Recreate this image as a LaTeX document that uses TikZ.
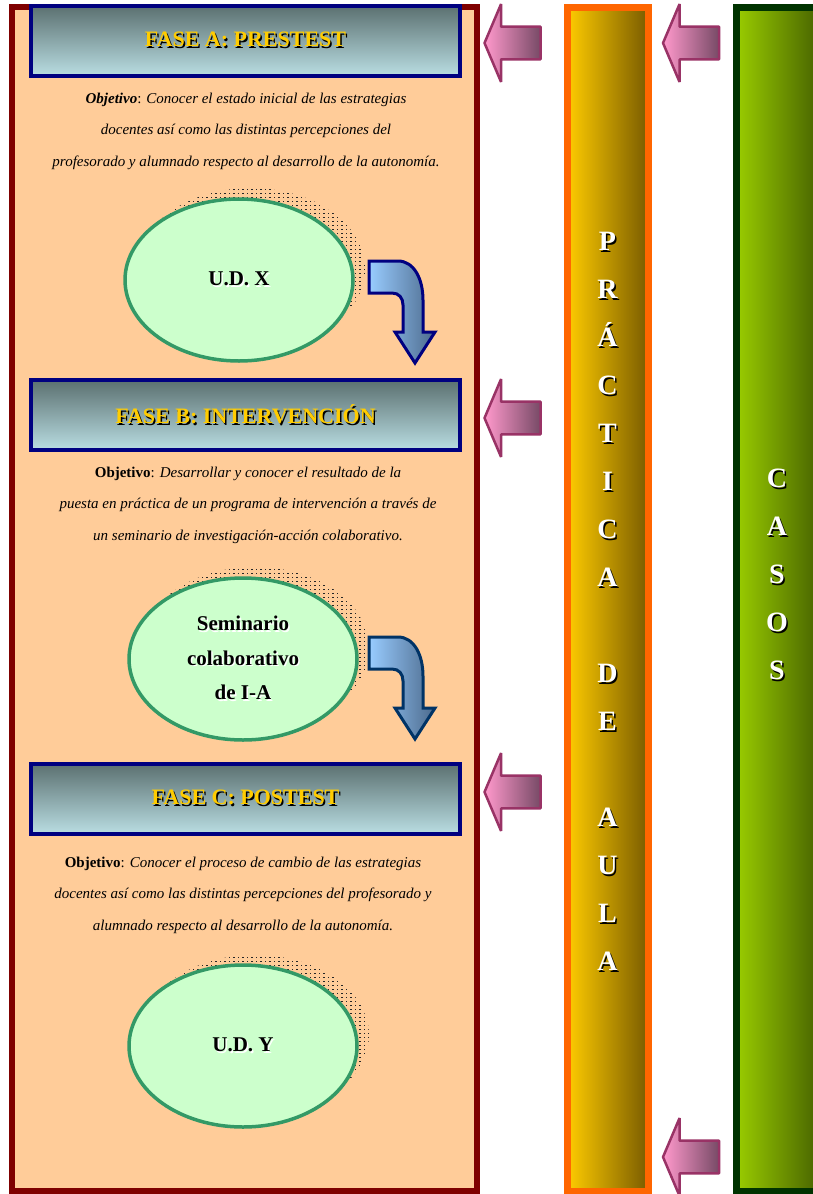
\documentclass[tikz,border=0pt]{standalone}
\usepackage{fontspec}
\setmainfont{Liberation Serif}
\usetikzlibrary{shapes.geometric,shapes.arrows,patterns}

\definecolor{granate}{HTML}{7F0000}
\definecolor{melocoton}{HTML}{FFCC99}
\definecolor{marino}{HTML}{000080}
\definecolor{azuloscuro}{HTML}{003366}
\definecolor{gristop}{HTML}{5B7070}
\definecolor{celestebot}{HTML}{B9DDE2}
\definecolor{oro}{HTML}{FFCC00}
\definecolor{verdeborde}{HTML}{339966}
\definecolor{menta}{HTML}{CCFFCC}
\definecolor{celeste}{HTML}{99CCFF}
\definecolor{pizarra}{HTML}{4C6A8C}
\definecolor{ciruela}{HTML}{993366}
\definecolor{rosaclaro}{HTML}{FF99CC}
\definecolor{malva}{HTML}{774A66}
\definecolor{naranja}{HTML}{FF6600}
\definecolor{ocre}{HTML}{7A5C00}
\definecolor{pino}{HTML}{003300}
\definecolor{lima}{HTML}{99CC00}
\definecolor{oliva}{HTML}{4A6600}

% texto con sombra
\newcommand{\sombra}[2]{\makebox[0pt][l]{\raisebox{-1.5pt}{\hspace{1.5pt}\color{#1}#2}}#2}

% trama de puntos para la sombra de las elipses
\pgfdeclarepatternformonly{puntos}{\pgfqpoint{-1pt}{-1pt}}{\pgfqpoint{1pt}{1pt}}{\pgfqpoint{4.5pt}{4pt}}%
  {\pgfpathrectangle{\pgfqpoint{-0.7pt}{-0.5pt}}{\pgfqpoint{1.4pt}{1pt}}\pgfusepath{fill}}

\begin{document}
\begin{tikzpicture}[x=1pt,y=-1pt,
    marco/.style={draw=granate,line width=6pt,fill=melocoton,minimum width=465,minimum height=1184,inner sep=0},
    fase/.style={draw=marino,line width=4pt,top color=gristop,bottom color=celestebot,minimum width=429,minimum height=70,
        text=oro,font=\fontsize{22}{26}\selectfont\bfseries},
    objetivo/.style={align=center,font=\fontsize{15}{31.5}\selectfont\itshape},
    unidad/.style={ellipse,draw=verdeborde,line width=3.5pt,fill=menta,minimum width=228,minimum height=162,
        font=\fontsize{21}{34.5}\selectfont\bfseries},
    sombrita/.style={pattern=puntos,pattern color=black!85},
    rosa/.style={single arrow,shape border rotate=180,draw=ciruela,line width=2.5pt,line join=bevel,
        left color=rosaclaro,right color=malva,minimum height=56,minimum width=0,
        single arrow head extend=22.5,single arrow tip angle=134,inner sep=15.2},
    barra/.style={line width=7pt,minimum width=81,minimum height=1184,inner sep=0},
    letras/.style={text=white,font=\fontsize{28}{48}\selectfont\bfseries},
    pics/flechacurva/.style={code={
        \draw[draw=#1,line width=3pt,left color=celeste,right color=pizarra]
            (0,0) -- (29,0) .. controls (45,0) and (54,18) .. (54,39) -- (54,71) -- (66,71) -- (46,102)
            -- (26,71) -- (34,71) -- (34,44) .. controls (34,37) and (30,32) .. (23,32) -- (0,32) -- cycle;}}]
\useasboundingbox (0,0) rectangle (813,1194);

% columna de fases
\node[marco] (marco) at (244.5,599) {};

\node[fase] (faseA) at (245.5,40.5) {\sombra{black}{FASE A: PRESTEST}};
\node[objetivo] (objA) at (246,131) {\textbf{Objetivo}\textup{:} Conocer el estado inicial de las estrategias\\
    docentes así como las distintas percepciones del\\
    profesorado y alumnado respecto al desarrollo de la autonomía.};
\fill[sombrita] (251,269) ellipse [x radius=114,y radius=81];
\node[unidad] (udx) at (239,280) {\sombra{white}{U.D. X}};
\pic at (369,261) {flechacurva=marino};

\node[fase] (faseB) at (245.5,415) {\sombra{black}{FASE B: INTERVENCIÓN}};
\node[objetivo] (objB) at (248,505) {\textbf{\upshape Objetivo}\textup{:} Desarrollar y conocer el resultado de la\\
    puesta en práctica de un programa de intervención a través de\\
    un seminario de investigación-acción colaborativo.};
\fill[sombrita] (255,648) ellipse [x radius=114,y radius=81];
\node[unidad] (seminario) at (243,659) {\sombra{white}{\begin{tabular}{@{}c@{}}Seminario\\colaborativo\\de I-A\end{tabular}}};
\pic at (369,637) {flechacurva=azuloscuro};

\node[fase] (faseC) at (245.5,798.5) {\sombra{black}{FASE C: POSTEST}};
\node[objetivo] (objC) at (243,895) {\textbf{\upshape Objetivo}\textup{:} Conocer el proceso de cambio de las estrategias\\
    docentes así como las distintas percepciones del profesorado y\\
    alumnado respecto al desarrollo de la autonomía.};
\fill[sombrita] (255,1035) ellipse [x radius=114,y radius=80];
\node[unidad] (udy) at (243,1046) {\sombra{white}{U.D. Y}};

% flechas rosas
\node[rosa] (flA) at (516,43) {};
\node[rosa] (flB) at (516,418) {};
\node[rosa] (flC) at (516,792) {};
\node[rosa] (flP) at (694.5,43) {};
\node[rosa] (flQ) at (694.5,1157) {};

% barras verticales
\node[barra,draw=naranja,left color=oro,right color=ocre] (practica) at (607.5,599) {};
\node[letras] (txtpractica) at (607.5,602) {\sombra{black}{\begin{tabular}{@{}c@{}}P\\R\\Á\\C\\T\\I\\C\\A\\[48pt]D\\E\\[48pt]A\\U\\L\\A\end{tabular}}};
\node[barra,draw=pino,left color=lima,right color=oliva] (casos) at (777,599) {};
\node[letras] (txtcasos) at (777,575) {\sombra{black}{\begin{tabular}{@{}c@{}}C\\A\\S\\O\\S\end{tabular}}};
\end{tikzpicture}
\end{document}
